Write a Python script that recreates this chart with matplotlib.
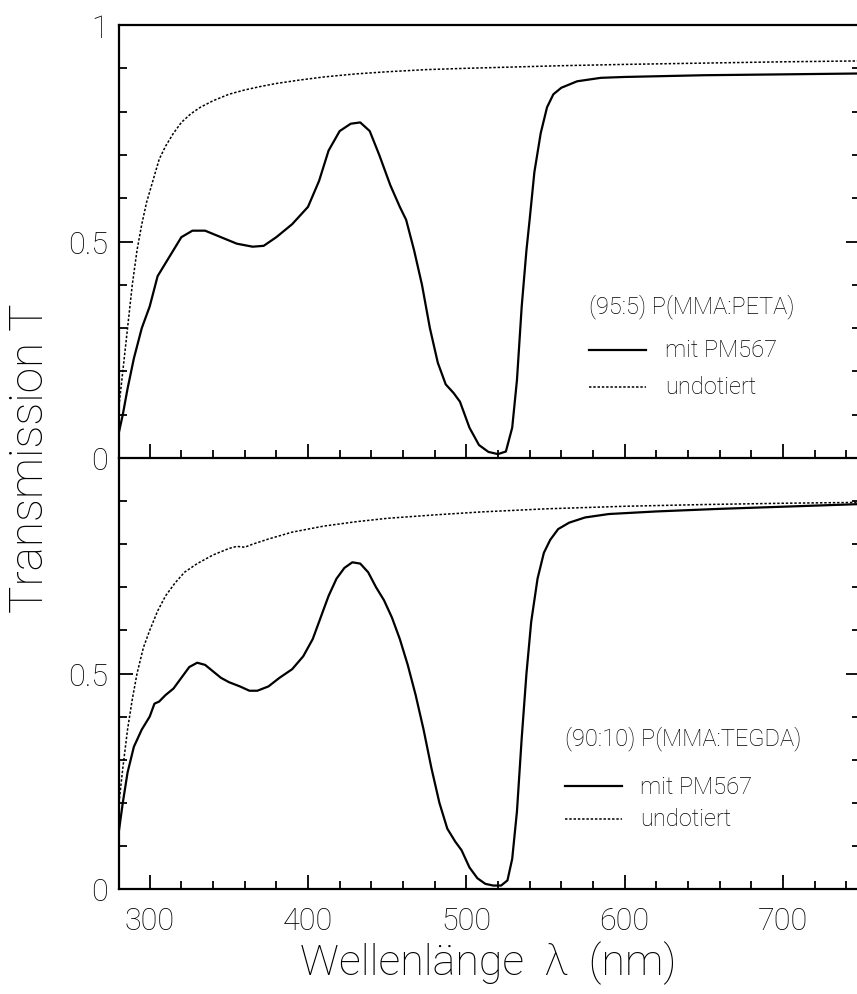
import matplotlib
matplotlib.use("Agg")
import matplotlib.pyplot as plt
from matplotlib.ticker import MultipleLocator, FixedLocator, NullFormatter
from matplotlib import font_manager

# --- measured transmission spectra -------------------------------------
# (95:5) P(MMA:PETA), doped with PM567
wl_peta_dye = [280, 283, 286, 290, 295, 300, 305, 310, 315, 320, 327, 335, 345,
               355, 365, 372, 380, 390, 400, 407, 413, 420, 427, 433, 439, 445,
               452, 458, 462, 467, 472, 477, 482, 487, 492, 496, 502, 508, 514,
               520, 525, 529, 532, 535, 538, 540, 543, 547, 551, 555, 560, 570,
               585, 600, 650, 700, 748]
T_peta_dye = [0.05, 0.10, 0.16, 0.23, 0.30, 0.35, 0.42, 0.45, 0.48, 0.51, 0.525,
              0.525, 0.51, 0.495, 0.488, 0.49, 0.51, 0.54, 0.58, 0.64, 0.71,
              0.755, 0.772, 0.775, 0.755, 0.70, 0.63, 0.58, 0.55, 0.48, 0.40,
              0.30, 0.22, 0.17, 0.15, 0.13, 0.07, 0.03, 0.014, 0.009, 0.015,
              0.07, 0.18, 0.35, 0.48, 0.55, 0.66, 0.75, 0.81, 0.84, 0.855, 0.87,
              0.878, 0.88, 0.884, 0.886, 0.888]

# (95:5) P(MMA:PETA), undoped
wl_peta_pure = [280, 283, 286, 289, 292, 295, 298, 302, 306, 310, 315, 320, 326,
                332, 340, 350, 360, 370, 380, 395, 410, 430, 450, 475, 500, 530,
                560, 600, 650, 700, 748]
T_peta_pure = [0.10, 0.20, 0.30, 0.40, 0.48, 0.54, 0.59, 0.64, 0.69, 0.72, 0.75,
               0.775, 0.795, 0.81, 0.825, 0.84, 0.85, 0.858, 0.865, 0.873, 0.88,
               0.887, 0.892, 0.897, 0.900, 0.903, 0.906, 0.909, 0.912, 0.915,
               0.917]

# (90:10) P(MMA:TEGDA), doped with PM567
wl_tegda_dye = [280, 283, 286, 290, 295, 300, 303, 306, 310, 315, 320, 325, 330,
                335, 340, 345, 350, 357, 363, 368, 375, 382, 390, 397, 403, 408,
                413, 418, 423, 428, 433, 438, 443, 448, 453, 458, 463, 468, 473,
                478, 483, 488, 493, 497, 502, 507, 512, 517, 522, 526, 529, 532,
                535, 538, 541, 545, 549, 553, 558, 565, 575, 590, 620, 660, 700,
                748]
T_tegda_dye = [0.12, 0.20, 0.27, 0.33, 0.37, 0.40, 0.43, 0.435, 0.45, 0.465,
               0.49, 0.515, 0.525, 0.52, 0.505, 0.49, 0.48, 0.47, 0.46, 0.46,
               0.47, 0.49, 0.51, 0.54, 0.58, 0.63, 0.68, 0.72, 0.745, 0.758,
               0.755, 0.735, 0.70, 0.67, 0.63, 0.58, 0.52, 0.45, 0.37, 0.28,
               0.20, 0.14, 0.11, 0.09, 0.05, 0.025, 0.012, 0.008, 0.008, 0.02,
               0.07, 0.18, 0.35, 0.50, 0.62, 0.72, 0.78, 0.81, 0.835, 0.85,
               0.862, 0.87, 0.876, 0.882, 0.887, 0.893]

# (90:10) P(MMA:TEGDA), undoped
wl_tegda_pure = [280, 283, 286, 289, 292, 296, 300, 305, 310, 316, 322, 330, 340,
                 350, 355, 360, 365, 375, 390, 410, 430, 450, 480, 510, 550, 600,
                 650, 700, 748]
T_tegda_pure = [0.18, 0.28, 0.37, 0.44, 0.50, 0.56, 0.60, 0.645, 0.68, 0.71,
                0.735, 0.755, 0.775, 0.79, 0.795, 0.793, 0.80, 0.812, 0.828,
                0.842, 0.852, 0.86, 0.868, 0.875, 0.882, 0.888, 0.892, 0.895,
                0.897]

panel_titles = ["(95:5) P(MMA:PETA)", "(90:10) P(MMA:TEGDA)"]
legend_labels = ["mit PM567", "undotiert"]
x_ticks = [300, 400, 500, 600, 700]

# --- fonts --------------------------------------------------------------
names = {f.name for f in font_manager.fontManager.ttflist}
family = "Liberation Sans"
for cand in ["Roboto", "Lato", "Open Sans", "Liberation Sans"]:
    if cand in names:
        family = cand
        break
plt.rcParams["font.family"] = [family, "DejaVu Sans"]
plt.rcParams["font.weight"] = "light"

W, H = 857, 995
fig = plt.figure(figsize=(W / 100, H / 100), dpi=100)

left_px, right_px = 119, 860
x_lo = 300 - (149.7 - left_px) / 1.583
x_hi = 300 + (right_px - 149.7) / 1.583


def frac_box(top_px, bottom_px):
    return [left_px / W, 1 - bottom_px / H, (right_px - left_px) / W,
            (bottom_px - top_px) / H]


ax_top = fig.add_axes(frac_box(26, 459))
ax_bot = fig.add_axes(frac_box(459, 890))

tick_fs = 22
data = [
    (ax_top, wl_peta_dye, T_peta_dye, wl_peta_pure, T_peta_pure),
    (ax_bot, wl_tegda_dye, T_tegda_dye, wl_tegda_pure, T_tegda_pure),
]

for ax, wd, td, wp, tp in data:
    ax.plot(wd, td, color="black", lw=1.6, solid_joinstyle="round")
    ax.plot(wp, tp, color="black", lw=1.1, linestyle=(0, (1.6, 1.2)))
    ax.set_xlim(x_lo, x_hi)
    ax.set_ylim(0, 1)
    ax.xaxis.set_major_locator(FixedLocator(x_ticks))
    ax.xaxis.set_minor_locator(MultipleLocator(20))
    ax.yaxis.set_major_locator(FixedLocator([0, 0.5, 1]))
    ax.yaxis.set_minor_locator(MultipleLocator(0.1))
    for s in ax.spines.values():
        s.set_linewidth(1.6)
    ax.tick_params(which="both", direction="in", left=True, right=True,
                   bottom=True, top=False, width=1.3, labelsize=tick_fs)
    ax.tick_params(which="major", length=10, pad=8)
    ax.tick_params(which="minor", length=6)
    ax.set_facecolor("none")

ax_top.set_yticklabels(["0", "0.5", "1"])
ax_top.xaxis.set_major_formatter(NullFormatter())
ax_bot.spines["top"].set_visible(False)
ax_bot.set_yticks([0, 0.5])
ax_bot.set_yticklabels(["0", "0.5"])
ax_bot.set_xticklabels([str(v) for v in x_ticks])
ax_bot.tick_params(axis="x", which="major", pad=12)

# in-panel legends
leg_fs = 17
for ax, title, tx, y_title, y1, y2, lx0, lx1, txt_x in [
    (ax_top, panel_titles[0], 589, 307, 351, 388, 589, 646, 665),
    (ax_bot, panel_titles[1], 565, 739, 787, 820, 565, 622, 640),
]:
    bbox = ax.get_position()
    to_ax = lambda px, py: ((px / W - bbox.x0) / bbox.width,
                            ((1 - py / H) - bbox.y0) / bbox.height)
    x0, yt = to_ax(tx, y_title)
    ax.text(x0, yt, title, transform=ax.transAxes, fontsize=leg_fs,
            va="center", ha="left")
    a0, ya = to_ax(lx0, y1)
    a1, _ = to_ax(lx1, y1)
    ax.plot([a0, a1], [ya, ya], transform=ax.transAxes, color="black",
            lw=1.6)
    tx0, _ = to_ax(txt_x, y1)
    ax.text(tx0, ya, legend_labels[0], transform=ax.transAxes,
            fontsize=leg_fs, va="center", ha="left")
    _, yb = to_ax(lx0, y2)
    ax.plot([a0, a1], [yb, yb], transform=ax.transAxes, color="black",
            lw=1.1, linestyle=(0, (1.6, 1.2)))
    ax.text(tx0, yb, legend_labels[1], transform=ax.transAxes,
            fontsize=leg_fs, va="center", ha="left")

fig.text(30 / W, 1 - 458 / H, "Transmission T", rotation=90, fontsize=33,
         ha="center", va="center")
fig.text(488 / W, 1 - 963 / H, "Wellenlänge  λ  (nm)", fontsize=31,
         ha="center", va="center")

fig.savefig("out.png", dpi=100)
